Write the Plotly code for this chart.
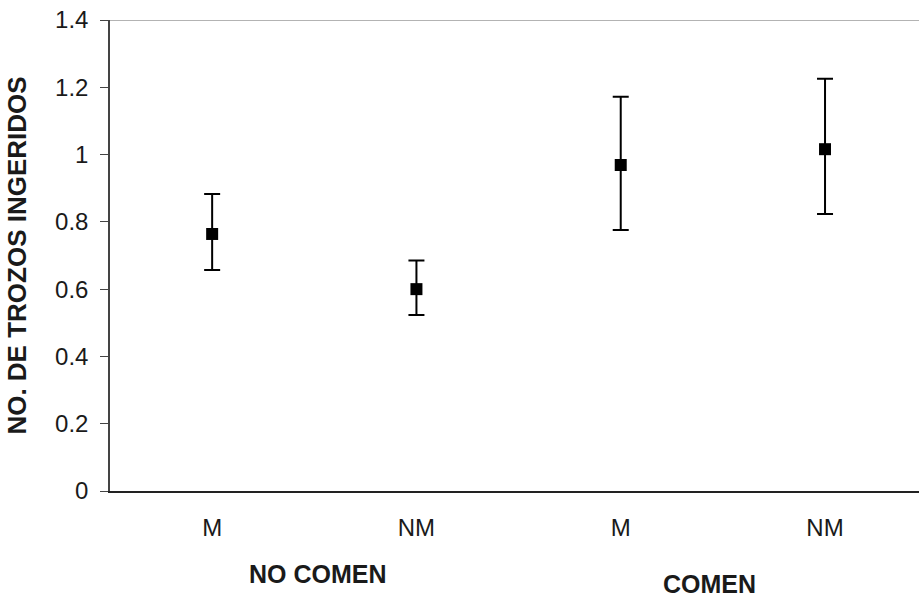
import plotly.graph_objects as go

# Groups and treatment categories
categories = ["M", "NM", "M", "NM"]
groups = ["NO COMEN", "COMEN"]

# Mean number of pieces ingested and error bar extents
means = [0.764, 0.600, 0.969, 1.016]
err_plus = [0.119, 0.085, 0.203, 0.209]
err_minus = [0.107, 0.077, 0.193, 0.193]

y_ticks = [0, 0.2, 0.4, 0.6, 0.8, 1.0, 1.2, 1.4]
y_tick_text = ["0", "0.2", "0.4", "0.6", "0.8", "1", "1.2", "1.4"]

xpos = list(range(len(categories)))
font_family = "Liberation Sans, Arial, sans-serif"
ink = "#1a1a1a"

fig = go.Figure()
fig.add_trace(go.Scatter(
    x=xpos, y=means, mode="markers",
    marker=dict(symbol="square", size=12, color="black"),
    error_y=dict(type="data", symmetric=False, array=err_plus, arrayminus=err_minus,
                 color="black", thickness=2, width=8),
    showlegend=False,
))

fig.update_layout(
    template="none",
    width=919, height=598,
    margin=dict(l=110, r=0, t=20, b=107),
    paper_bgcolor="white", plot_bgcolor="white",
    font=dict(family=font_family, size=24, color=ink),
    xaxis=dict(
        range=[-0.5, 3.46], tickmode="array", tickvals=xpos, ticktext=categories,
        showgrid=False, zeroline=False, showline=True, linecolor="#222", linewidth=2,
        ticks="", ticklabelstandoff=14, tickfont=dict(size=24, color=ink),
    ),
    yaxis=dict(
        range=[0, 1.4], tickmode="array", tickvals=y_ticks, ticktext=y_tick_text,
        showgrid=False, zeroline=False, showline=True, linecolor="#444", linewidth=1.5,
        ticks="outside", ticklen=8, tickcolor="#444", ticklabelstandoff=7,
        tickfont=dict(size=24, color=ink),
        title=dict(text="<b>NO. DE TROZOS INGERIDOS</b>", font=dict(size=26, color=ink),
                   standoff=21),
    ),
)

# Light border across the top of the plot area
fig.add_shape(type="line", xref="paper", yref="y", x0=0, x1=1, y0=1.4, y1=1.4,
              line=dict(color="#9a9a9a", width=1.5))

# Group labels below the category labels
group_x = [(xpos[0] + xpos[1]) / 2, (xpos[2] + xpos[3]) / 2]
group_dx = [4, -13]
group_dy = [-83, -93]
for gx, dx, dy, label in zip(group_x, group_dx, group_dy, groups):
    fig.add_annotation(x=gx, y=0, xref="x", yref="y", text=f"<b>{label}</b>",
                       showarrow=False, xshift=dx, yshift=dy,
                       font=dict(size=25, color=ink))

fig.write_html("out.html")
